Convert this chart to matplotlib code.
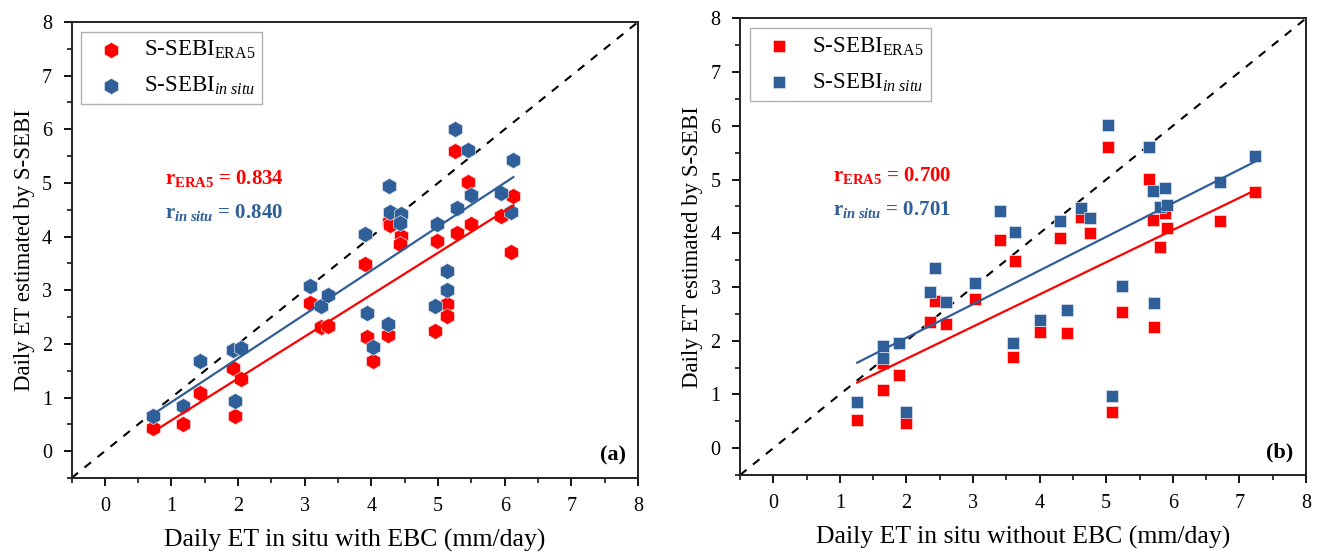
import numpy as np
import matplotlib.pyplot as plt

plt.rcParams['font.family'] = 'Liberation Serif'
plt.rcParams['mathtext.fontset'] = 'custom'
plt.rcParams['mathtext.rm'] = 'Liberation Serif'
plt.rcParams['mathtext.it'] = 'Liberation Serif:italic'
plt.rcParams['mathtext.bf'] = 'Liberation Serif:bold'
plt.rcParams['mathtext.bfit'] = 'Liberation Serif:italic:bold'

# panel (a): in situ ET with energy balance closure
obs_a = [0.73, 1.18, 1.43, 1.92, 2.05, 1.96, 3.08, 3.25, 3.35, 3.90, 3.94, 4.02, 4.25, 4.27,
         4.28, 4.44, 4.43, 4.95, 4.99, 5.13, 5.13, 5.26, 5.29, 5.45, 5.49, 5.95, 6.13, 6.10]
era5_a = [0.44, 0.51, 1.08, 1.55, 1.34, 0.65, 2.76, 2.31, 2.34, 3.48, 2.13, 1.68, 2.16, 4.27,
          4.21, 4.01, 3.87, 2.24, 3.91, 2.74, 2.52, 5.60, 4.07, 5.01, 4.23, 4.39, 4.75, 3.72]
insitu_a = [0.66, 0.85, 1.69, 1.89, 1.92, 0.94, 3.07, 2.71, 2.91, 4.04, 2.57, 1.95, 2.37, 4.95,
            4.46, 4.43, 4.26, 2.70, 4.23, 3.35, 3.01, 6.01, 4.54, 5.61, 4.77, 4.81, 5.42, 4.46]

# panel (b): in situ ET without energy balance closure
obs_b = [1.26, 1.65, 1.65, 1.89, 1.99, 2.35, 2.43, 2.60, 3.03, 3.41, 3.63, 3.60, 4.01, 4.31,
         4.41, 4.62, 4.76, 5.03, 5.08, 5.23, 5.64, 5.70, 5.71, 5.80, 5.88, 5.91, 6.71, 7.24]
era5_b = [0.52, 1.58, 1.09, 1.36, 0.46, 2.35, 2.74, 2.31, 2.77, 3.87, 3.48, 1.70, 2.16, 3.92,
          2.14, 4.30, 4.00, 5.60, 0.67, 2.54, 5.01, 4.25, 2.25, 3.74, 4.38, 4.09, 4.23, 4.76]
insitu_b = [0.86, 1.90, 1.68, 1.96, 0.67, 2.90, 3.36, 2.72, 3.07, 4.41, 4.03, 1.96, 2.38, 4.23,
            2.58, 4.47, 4.28, 6.02, 0.97, 3.02, 5.61, 4.79, 2.71, 4.48, 4.84, 4.53, 4.96, 5.43]

r_vals_a = ['0.834', '0.840']
r_vals_b = ['0.700', '0.701']

RED = '#FF0000'
BLUE = '#2F5F98'

W, H = 1318, 554
fig = plt.figure(figsize=(W / 100, H / 100), dpi=100)
ax1 = fig.add_axes([71.5 / W, (H - 478) / H, 566.5 / W, 456 / H])
ax2 = fig.add_axes([740 / W, (H - 475) / H, 566 / W, 456.6 / H])


def draw_panel(ax, x, y1, y2, marker, size, r_vals, tag, xlabel):
    x = np.asarray(x)
    ax.plot([-0.5, 8], [-0.5, 8], color='black', lw=1.5, ls=(0, (4, 4)), zorder=1)
    ax.scatter(x, y1, marker=marker, s=size, color=RED, edgecolors='#ffdddd', linewidths=0.5,
               label=r'S-SEBI$_{\mathrm{ERA5}}$', zorder=3)
    ax.scatter(x, y2, marker=marker, s=size, color=BLUE, edgecolors='#dde4f0', linewidths=0.5,
               label=r'S-SEBI$_{\mathit{in\ situ}}$', zorder=3)
    # least squares fit lines
    xx = np.array([x.min(), x.max()])
    for y, c in [(y1, RED), (y2, BLUE)]:
        k, b = np.polyfit(x, y, 1)
        ax.plot(xx, k * xx + b, color=c, lw=1.6, zorder=4)

    ax.text(0.9, 5.08, r'r$_{\mathbf{ERA5}}$ = ' + r_vals[0], color=RED, fontsize=15,
            fontweight='bold', va='center', ha='left')
    ax.text(0.9, 4.45, r'r$_{\mathbfit{in\ situ}}$ = ' + r_vals[1], color=BLUE, fontsize=15,
            fontweight='bold', va='center', ha='left')
    ax.text(0.978, 0.05, tag, transform=ax.transAxes, fontsize=16, fontweight='bold',
            ha='right', va='center')

    ax.set_xlim(-0.5, 8)
    ax.set_ylim(-0.5, 8)
    ax.set_xticks(range(0, 9))
    ax.set_yticks(range(0, 9))
    ax.set_xticks(np.arange(-0.5, 8.01, 0.5), minor=True)
    ax.set_yticks(np.arange(-0.5, 8.01, 0.5), minor=True)
    ax.tick_params(which='major', direction='out', length=6, width=1.3, labelsize=14.5,
                   top=False, right=False, pad=8)
    ax.tick_params(which='minor', direction='out', length=3.5, width=1.1, top=False, right=False)
    for sp in ax.spines.values():
        sp.set_linewidth(1.4)
        sp.set_color('#222222')
    ax.set_xlabel(xlabel, fontsize=18.5, labelpad=9)
    ax.set_ylabel('Daily ET estimated by S-SEBI', fontsize=16.5, labelpad=5)

    leg = ax.legend(loc='upper left', bbox_to_anchor=(0.017, 0.978), borderaxespad=0,
                    fontsize=16.5, fancybox=False, framealpha=1, edgecolor='#b0b0b0',
                    borderpad=0.3, handlelength=1.97, handletextpad=0.46, labelspacing=0.6)
    leg.get_frame().set_linewidth(1.0)


draw_panel(ax1, obs_a, era5_a, insitu_a, 'h', 135, r_vals_a, '(a)',
           'Daily ET in situ with EBC (mm/day)')
draw_panel(ax2, obs_b, era5_b, insitu_b, 's', 85, r_vals_b, '(b)',
           'Daily ET in situ without EBC (mm/day)')

fig.savefig('out.png', dpi=100)
